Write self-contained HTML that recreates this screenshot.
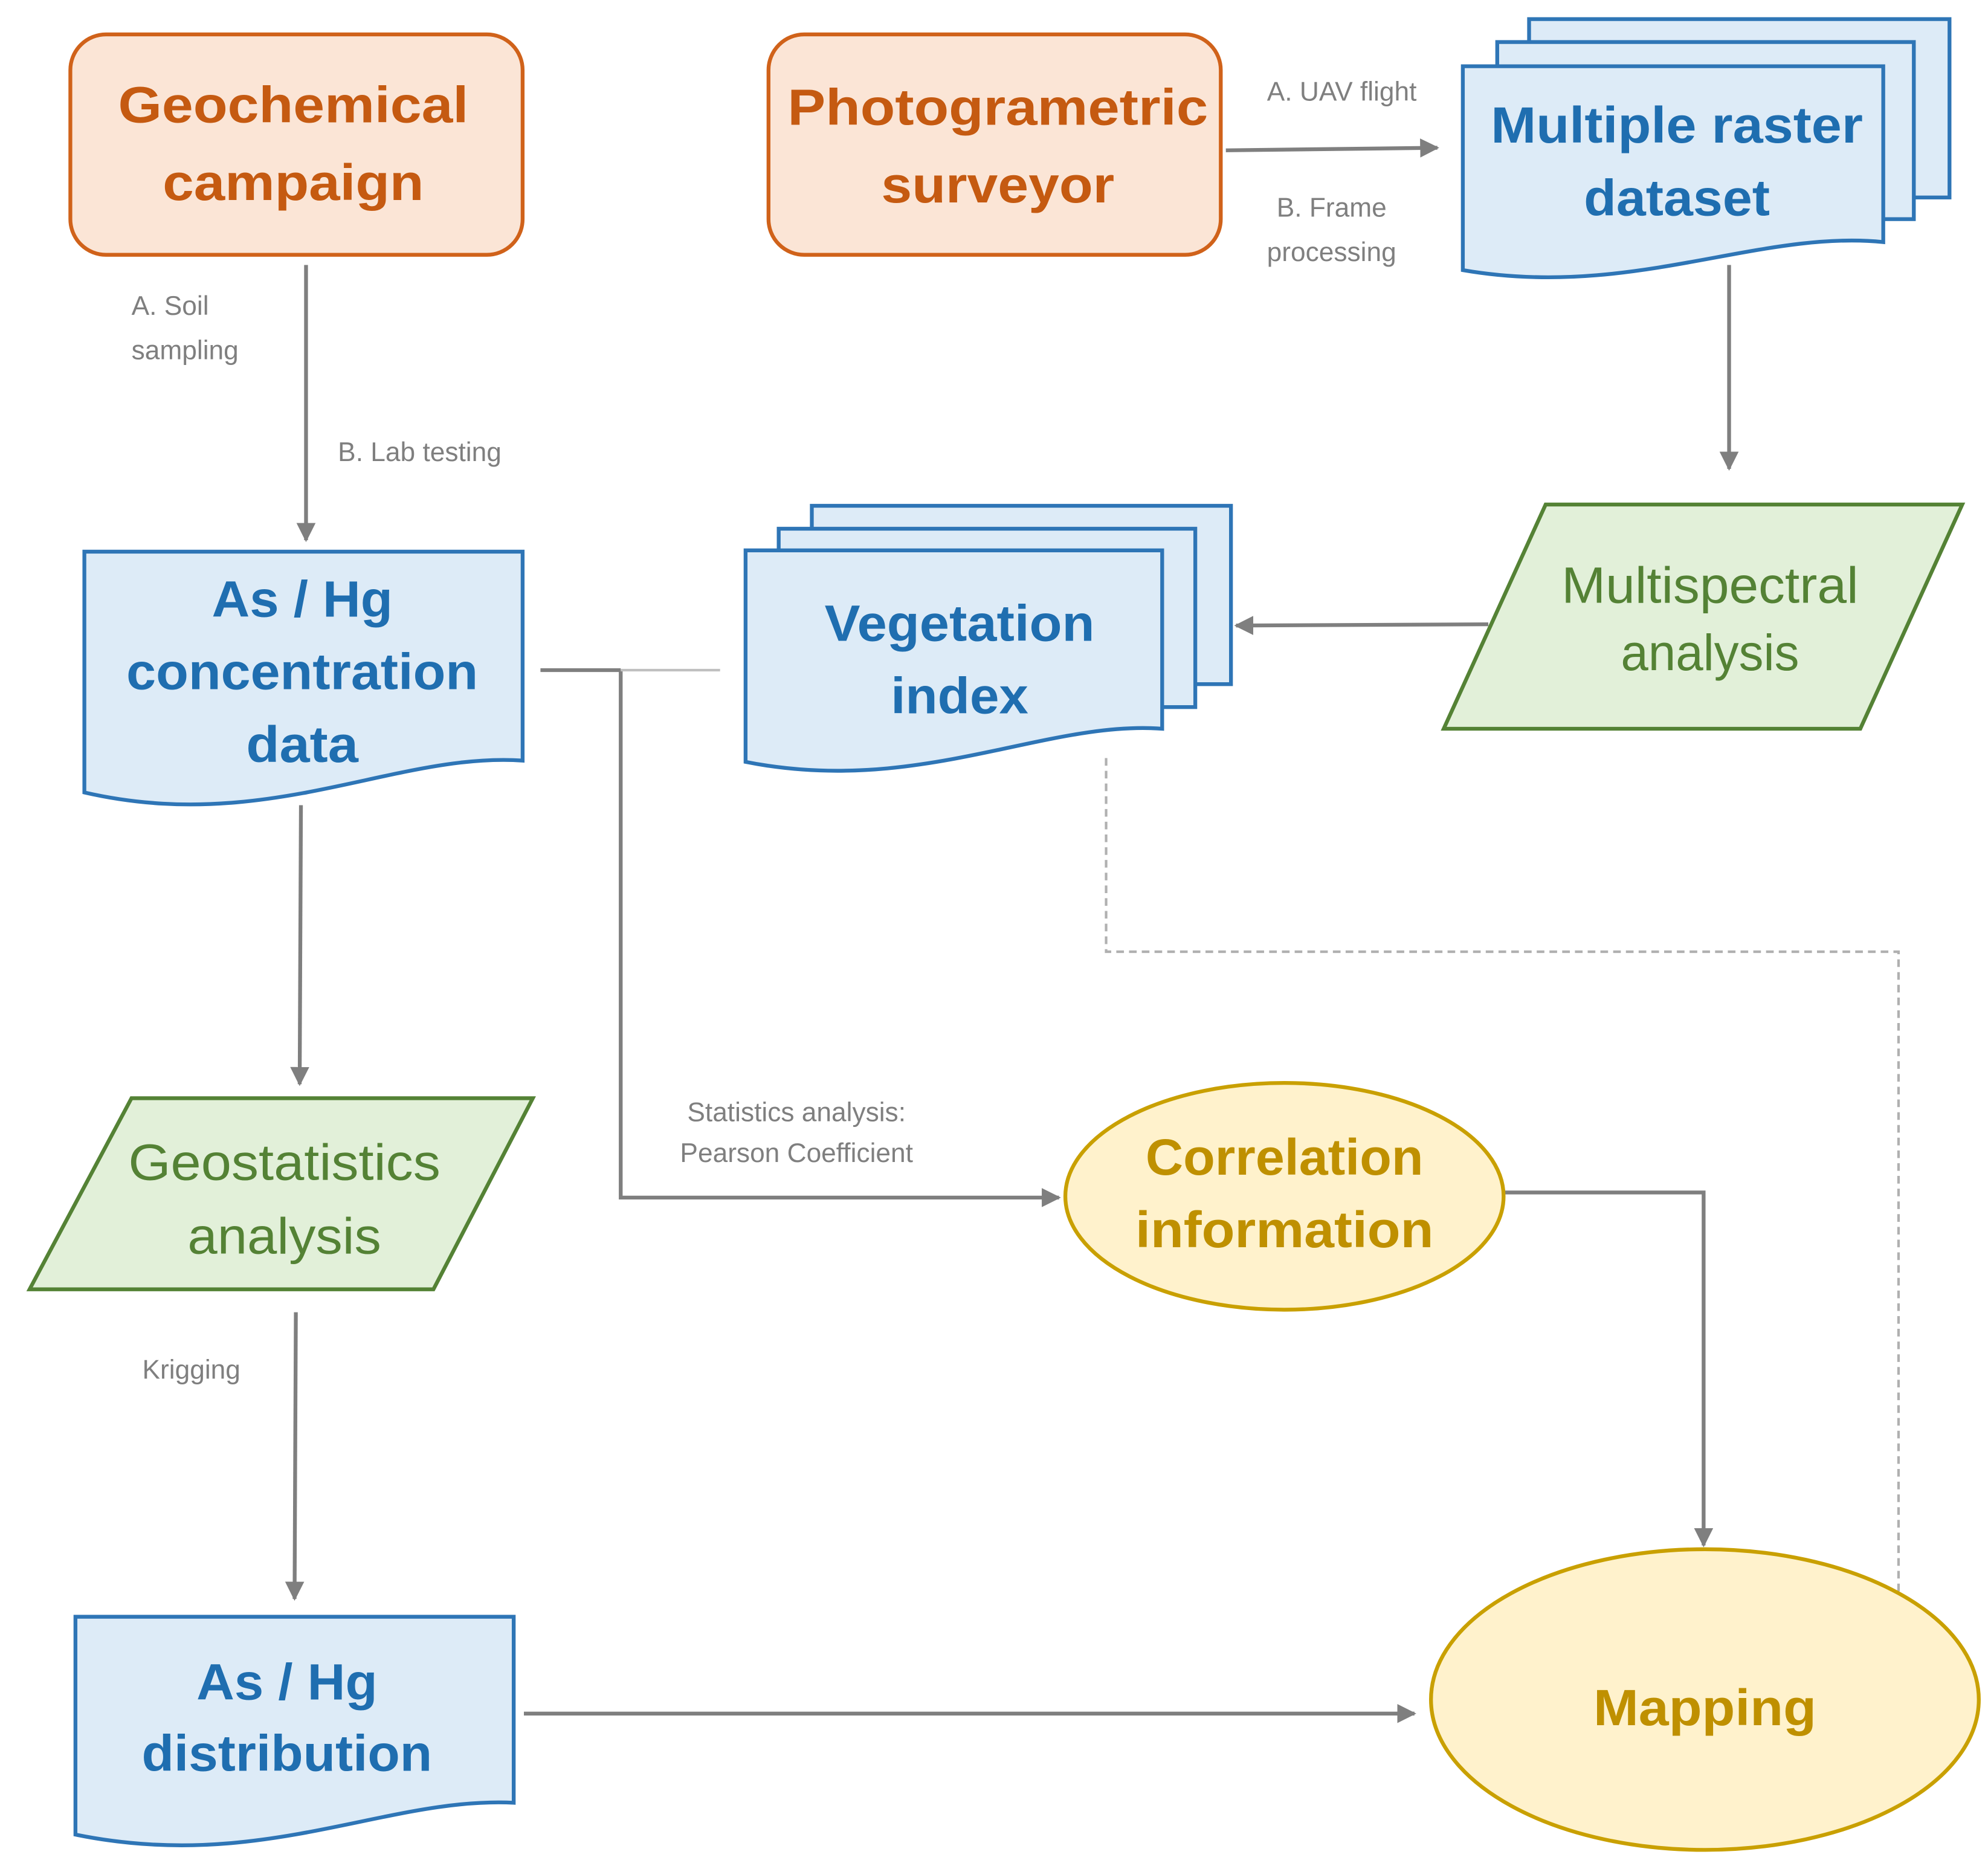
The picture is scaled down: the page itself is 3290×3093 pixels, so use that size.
<!DOCTYPE html>
<html><head><meta charset="utf-8"><style>
html,body{margin:0;padding:0;background:#fff;}
svg{display:block;}
text{font-family:"Liberation Sans",sans-serif;}
</style></head><body>
<svg width="3290" height="3093" viewBox="0 0 1560 1467" xmlns="http://www.w3.org/2000/svg">
<defs>
<marker id="ah" viewBox="0 0 10 10" refX="9" refY="5" markerWidth="5" markerHeight="5" orient="auto" markerUnits="strokeWidth">
<path d="M0,0 L10,5 L0,10 z" fill="#7f7f7f"/></marker>
</defs>
<rect width="1560" height="1467" fill="#fff"/>

<!-- Geochemical campaign -->
<rect x="55" y="27" width="355" height="173" rx="28" fill="#FBE5D6" stroke="#D0621A" stroke-width="3"/>
<g font-weight="bold" fill="#C55A11" font-size="40" text-anchor="middle">
<text x="230" y="96" textLength="275" lengthAdjust="spacingAndGlyphs">Geochemical</text>
<text x="230" y="157" textLength="205" lengthAdjust="spacingAndGlyphs">campaign</text>
</g>

<!-- Photogrametric surveyor -->
<rect x="603" y="27" width="355" height="173" rx="28" fill="#FBE5D6" stroke="#D0621A" stroke-width="3"/>
<g font-weight="bold" fill="#C55A11" font-size="40" text-anchor="middle">
<text x="783" y="98" textLength="330" lengthAdjust="spacingAndGlyphs">Photogrametric</text>
<text x="783" y="159" textLength="183" lengthAdjust="spacingAndGlyphs">surveyor</text>
</g>

<!-- connectors -->
<g stroke="#7f7f7f" stroke-width="3" fill="none">
<line x1="962" y1="118" x2="1128" y2="116" marker-end="url(#ah)"/>
<line x1="1357" y1="208" x2="1357" y2="368" marker-end="url(#ah)"/>
<line x1="1168" y1="490" x2="970" y2="491" marker-end="url(#ah)"/>
<line x1="240" y1="208" x2="240" y2="424" marker-end="url(#ah)"/>
<line x1="424" y1="526" x2="487" y2="526"/>
<polyline points="487,526 487,940 831,940" marker-end="url(#ah)"/>
<line x1="236" y1="632" x2="235" y2="851" marker-end="url(#ah)"/>
<line x1="232" y1="1030" x2="231" y2="1255" marker-end="url(#ah)"/>
<line x1="411" y1="1345" x2="1110" y2="1345" marker-end="url(#ah)"/>
<polyline points="1180,936 1337,936 1337,1213" marker-end="url(#ah)"/>
</g>
<line x1="487" y1="526" x2="565" y2="526" stroke="#c0c0c0" stroke-width="2"/>
<polyline points="868,595 868,747 1490,747 1490,1250" fill="none" stroke="#b0b0b0" stroke-width="2" stroke-dasharray="6,4"/>

<!-- connector labels -->
<g fill="#7f7f7f" font-size="21">
<text x="1053" y="79" text-anchor="middle">A. UAV flight</text>
<text x="1045" y="170" text-anchor="middle">B. Frame</text>
<text x="1045" y="205" text-anchor="middle">processing</text>
<text x="103" y="247">A. Soil</text>
<text x="103" y="282">sampling</text>
<text x="265" y="362">B. Lab testing</text>
<text x="625" y="880" text-anchor="middle">Statistics analysis:</text>
<text x="625" y="912" text-anchor="middle">Pearson Coefficient</text>
<text x="150" y="1082" text-anchor="middle">Krigging</text>
</g>

<!-- Multiple raster dataset -->
<g fill="#DDEBF7" stroke="#2E75B6" stroke-width="3">
<rect x="1200" y="15" width="330" height="140"/>
<rect x="1175" y="33" width="327" height="139"/>
<path d="M1148,52 H1478 V190 C1380,180 1280,235 1148,212 Z"/>
</g>
<g font-weight="bold" fill="#1F6EB0" font-size="40" text-anchor="middle">
<text x="1316" y="112" textLength="292" lengthAdjust="spacingAndGlyphs">Multiple raster</text>
<text x="1316" y="169" textLength="146" lengthAdjust="spacingAndGlyphs">dataset</text>
</g>

<!-- Multispectral analysis -->
<polygon points="1213,396 1540,396 1460,572 1133,572" fill="#E2F0D9" stroke="#548235" stroke-width="3"/>
<g fill="#548235" font-size="40" text-anchor="middle">
<text x="1342" y="473" textLength="233" lengthAdjust="spacingAndGlyphs">Multispectral</text>
<text x="1342" y="526" textLength="140" lengthAdjust="spacingAndGlyphs">analysis</text>
</g>

<!-- Vegetation index -->
<g fill="#DDEBF7" stroke="#2E75B6" stroke-width="3">
<rect x="637" y="397" width="329" height="140"/>
<rect x="611" y="415" width="327" height="140"/>
<path d="M585,432 H912 V572 C820,565 720,625 585,598 Z"/>
</g>
<g font-weight="bold" fill="#1F6EB0" font-size="40" text-anchor="middle">
<text x="753" y="503" textLength="212" lengthAdjust="spacingAndGlyphs">Vegetation</text>
<text x="753" y="560" textLength="108" lengthAdjust="spacingAndGlyphs">index</text>
</g>

<!-- As/Hg concentration data -->
<path d="M66,433 H410 V597 C310,590 210,655 66,622 Z" fill="#DDEBF7" stroke="#2E75B6" stroke-width="3"/>
<g font-weight="bold" fill="#1F6EB0" font-size="40" text-anchor="middle">
<text x="237" y="484" textLength="142" lengthAdjust="spacingAndGlyphs">As / Hg</text>
<text x="237" y="541" textLength="276" lengthAdjust="spacingAndGlyphs">concentration</text>
<text x="237" y="598" textLength="88" lengthAdjust="spacingAndGlyphs">data</text>
</g>

<!-- Geostatistics analysis -->
<polygon points="103,862 418,862 340,1012 23,1012" fill="#E2F0D9" stroke="#548235" stroke-width="3"/>
<g fill="#548235" font-size="40" text-anchor="middle">
<text x="223" y="926" textLength="245" lengthAdjust="spacingAndGlyphs">Geostatistics</text>
<text x="223" y="984" textLength="152" lengthAdjust="spacingAndGlyphs">analysis</text>
</g>

<!-- As/Hg distribution -->
<path d="M59,1269 H403 V1415 C303,1410 205,1470 59,1440 Z" fill="#DDEBF7" stroke="#2E75B6" stroke-width="3"/>
<g font-weight="bold" fill="#1F6EB0" font-size="40" text-anchor="middle">
<text x="225" y="1334" textLength="142" lengthAdjust="spacingAndGlyphs">As / Hg</text>
<text x="225" y="1390" textLength="228" lengthAdjust="spacingAndGlyphs">distribution</text>
</g>

<!-- Correlation information -->
<ellipse cx="1008" cy="939" rx="172" ry="89" fill="#FFF2CC" stroke="#C9A000" stroke-width="3"/>
<g font-weight="bold" fill="#BF9000" font-size="40" text-anchor="middle">
<text x="1008" y="922" textLength="218" lengthAdjust="spacingAndGlyphs">Correlation</text>
<text x="1008" y="979" textLength="234" lengthAdjust="spacingAndGlyphs">information</text>
</g>

<!-- Mapping -->
<ellipse cx="1338" cy="1334" rx="215" ry="118" fill="#FFF2CC" stroke="#C9A000" stroke-width="3"/>
<text x="1338" y="1354" font-weight="bold" fill="#BF9000" font-size="40" text-anchor="middle" textLength="175" lengthAdjust="spacingAndGlyphs">Mapping</text>
</svg>
</body></html>
